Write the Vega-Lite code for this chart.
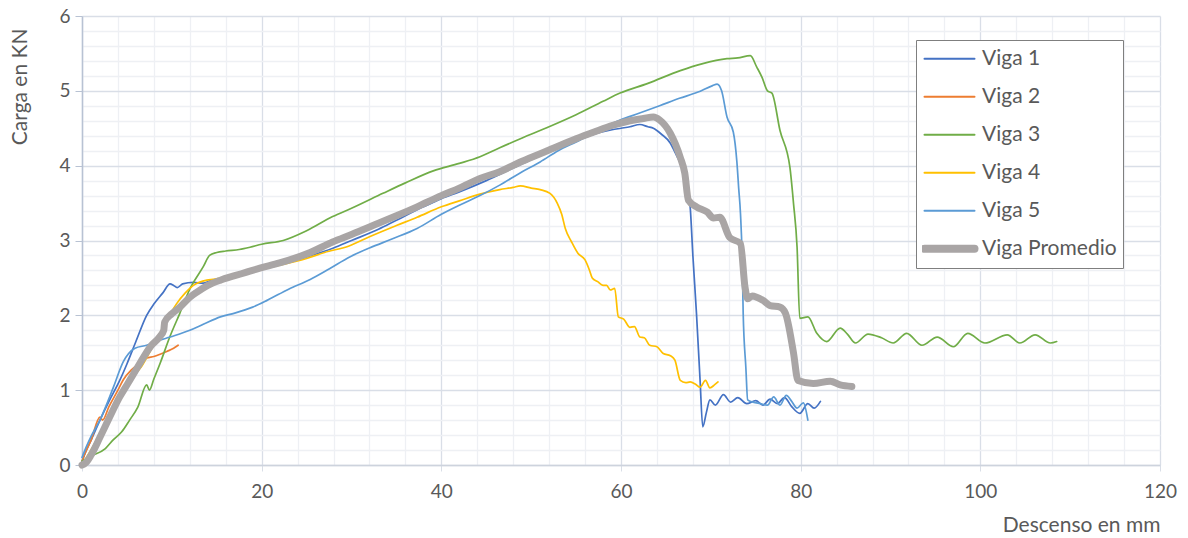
{
  "$schema": "https://vega.github.io/schema/vega-lite/v6.json",
  "width": 1078,
  "height": 449,
  "autosize": {"type": "none"},
  "padding": {"left": 82, "top": 16, "right": 28, "bottom": 73},
  "background": "white",
  "config": {"view": {"stroke": null}, "font": "Lato"},
  "data": {"values": [
    {"s":"Viga 1","x":0,"y":0.05},{"s":"Viga 1","x":0.5,"y":0.2},{"s":"Viga 1","x":1,"y":0.33},{"s":"Viga 1","x":2,"y":0.6},{"s":"Viga 1","x":3,"y":0.85},{"s":"Viga 1","x":4.2,"y":1.13},{"s":"Viga 1","x":5,"y":1.35},{"s":"Viga 1","x":6,"y":1.65},{"s":"Viga 1","x":7.2,"y":2.0},{"s":"Viga 1","x":8,"y":2.15},{"s":"Viga 1","x":9,"y":2.3},{"s":"Viga 1","x":9.8,"y":2.42},{"s":"Viga 1","x":10.2,"y":2.4},{"s":"Viga 1","x":10.6,"y":2.37},{"s":"Viga 1","x":11.2,"y":2.42},{"s":"Viga 1","x":12.4,"y":2.44},{"s":"Viga 1","x":13.5,"y":2.43},{"s":"Viga 1","x":14.5,"y":2.47},{"s":"Viga 1","x":15.4,"y":2.46},{"s":"Viga 1","x":17,"y":2.52},{"s":"Viga 1","x":20,"y":2.62},{"s":"Viga 1","x":22,"y":2.68},{"s":"Viga 1","x":25,"y":2.78},{"s":"Viga 1","x":28,"y":2.9},{"s":"Viga 1","x":30,"y":3.0},{"s":"Viga 1","x":33,"y":3.15},{"s":"Viga 1","x":35,"y":3.27},{"s":"Viga 1","x":38,"y":3.45},{"s":"Viga 1","x":40,"y":3.56},{"s":"Viga 1","x":42,"y":3.65},{"s":"Viga 1","x":45,"y":3.8},{"s":"Viga 1","x":48,"y":3.97},{"s":"Viga 1","x":50,"y":4.08},{"s":"Viga 1","x":53,"y":4.24},{"s":"Viga 1","x":55,"y":4.33},{"s":"Viga 1","x":57,"y":4.42},{"s":"Viga 1","x":59,"y":4.48},{"s":"Viga 1","x":60,"y":4.5},{"s":"Viga 1","x":61,"y":4.52},{"s":"Viga 1","x":62.1,"y":4.55},{"s":"Viga 1","x":63,"y":4.52},{"s":"Viga 1","x":63.6,"y":4.5},{"s":"Viga 1","x":64.5,"y":4.42},{"s":"Viga 1","x":65.5,"y":4.3},{"s":"Viga 1","x":66,"y":4.18},{"s":"Viga 1","x":66.6,"y":4.03},{"s":"Viga 1","x":67.2,"y":3.8},{"s":"Viga 1","x":67.7,"y":3.45},{"s":"Viga 1","x":68,"y":2.8},{"s":"Viga 1","x":68.4,"y":2.03},{"s":"Viga 1","x":68.8,"y":1.14},{"s":"Viga 1","x":69.1,"y":0.51},{"s":"Viga 1","x":69.5,"y":0.7},{"s":"Viga 1","x":69.9,"y":0.87},{"s":"Viga 1","x":70.5,"y":0.8},{"s":"Viga 1","x":71.4,"y":0.94},{"s":"Viga 1","x":72.2,"y":0.84},{"s":"Viga 1","x":73,"y":0.9},{"s":"Viga 1","x":74,"y":0.82},{"s":"Viga 1","x":75,"y":0.86},{"s":"Viga 1","x":75.8,"y":0.8},{"s":"Viga 1","x":76.6,"y":0.88},{"s":"Viga 1","x":77.4,"y":0.82},{"s":"Viga 1","x":78.2,"y":0.9},{"s":"Viga 1","x":79,"y":0.78},{"s":"Viga 1","x":79.9,"y":0.69},{"s":"Viga 1","x":80.8,"y":0.82},{"s":"Viga 1","x":81.5,"y":0.76},{"s":"Viga 1","x":82.2,"y":0.85},
    {"s":"Viga 2","x":0,"y":0.05},{"s":"Viga 2","x":0.5,"y":0.2},{"s":"Viga 2","x":1,"y":0.33},{"s":"Viga 2","x":2,"y":0.64},{"s":"Viga 2","x":2.3,"y":0.6},{"s":"Viga 2","x":3,"y":0.78},{"s":"Viga 2","x":4,"y":1.0},{"s":"Viga 2","x":4.6,"y":1.14},{"s":"Viga 2","x":5.5,"y":1.27},{"s":"Viga 2","x":6.7,"y":1.38},{"s":"Viga 2","x":7.2,"y":1.43},{"s":"Viga 2","x":8,"y":1.45},{"s":"Viga 2","x":8.7,"y":1.48},{"s":"Viga 2","x":9.5,"y":1.52},{"s":"Viga 2","x":10.2,"y":1.56},{"s":"Viga 2","x":10.7,"y":1.6},
    {"s":"Viga 3","x":0,"y":0.05},{"s":"Viga 3","x":1,"y":0.12},{"s":"Viga 3","x":2.6,"y":0.22},{"s":"Viga 3","x":3.5,"y":0.34},{"s":"Viga 3","x":4.4,"y":0.44},{"s":"Viga 3","x":5.3,"y":0.6},{"s":"Viga 3","x":6.2,"y":0.77},{"s":"Viga 3","x":7.2,"y":1.07},{"s":"Viga 3","x":7.5,"y":1.0},{"s":"Viga 3","x":8,"y":1.15},{"s":"Viga 3","x":8.7,"y":1.36},{"s":"Viga 3","x":9.8,"y":1.72},{"s":"Viga 3","x":10.9,"y":2.03},{"s":"Viga 3","x":12,"y":2.35},{"s":"Viga 3","x":13.5,"y":2.65},{"s":"Viga 3","x":14.2,"y":2.8},{"s":"Viga 3","x":15,"y":2.84},{"s":"Viga 3","x":16,"y":2.86},{"s":"Viga 3","x":17.5,"y":2.88},{"s":"Viga 3","x":18.7,"y":2.91},{"s":"Viga 3","x":20,"y":2.95},{"s":"Viga 3","x":22.4,"y":3.0},{"s":"Viga 3","x":25,"y":3.13},{"s":"Viga 3","x":27.9,"y":3.32},{"s":"Viga 3","x":30,"y":3.43},{"s":"Viga 3","x":33.5,"y":3.63},{"s":"Viga 3","x":36,"y":3.77},{"s":"Viga 3","x":39.1,"y":3.93},{"s":"Viga 3","x":42,"y":4.03},{"s":"Viga 3","x":44.3,"y":4.12},{"s":"Viga 3","x":46.5,"y":4.24},{"s":"Viga 3","x":49,"y":4.37},{"s":"Viga 3","x":51.8,"y":4.51},{"s":"Viga 3","x":55,"y":4.68},{"s":"Viga 3","x":58,"y":4.86},{"s":"Viga 3","x":59.9,"y":4.97},{"s":"Viga 3","x":63,"y":5.1},{"s":"Viga 3","x":66.6,"y":5.27},{"s":"Viga 3","x":69,"y":5.36},{"s":"Viga 3","x":71.8,"y":5.43},{"s":"Viga 3","x":73,"y":5.44},{"s":"Viga 3","x":74.4,"y":5.47},{"s":"Viga 3","x":75.1,"y":5.32},{"s":"Viga 3","x":75.7,"y":5.18},{"s":"Viga 3","x":76.3,"y":5.0},{"s":"Viga 3","x":76.8,"y":4.97},{"s":"Viga 3","x":77.7,"y":4.47},{"s":"Viga 3","x":78.8,"y":3.98},{"s":"Viga 3","x":79.2,"y":3.5},{"s":"Viga 3","x":79.6,"y":2.91},{"s":"Viga 3","x":79.9,"y":1.96},{"s":"Viga 3","x":80.8,"y":1.98},{"s":"Viga 3","x":81.8,"y":1.76},{"s":"Viga 3","x":82.9,"y":1.65},{"s":"Viga 3","x":84.4,"y":1.83},{"s":"Viga 3","x":85.2,"y":1.75},{"s":"Viga 3","x":86.1,"y":1.63},{"s":"Viga 3","x":87.5,"y":1.75},{"s":"Viga 3","x":89,"y":1.7},{"s":"Viga 3","x":90.3,"y":1.63},{"s":"Viga 3","x":91.8,"y":1.76},{"s":"Viga 3","x":93.5,"y":1.6},{"s":"Viga 3","x":95.2,"y":1.71},{"s":"Viga 3","x":97,"y":1.58},{"s":"Viga 3","x":98.6,"y":1.76},{"s":"Viga 3","x":100.5,"y":1.63},{"s":"Viga 3","x":103,"y":1.74},{"s":"Viga 3","x":104.4,"y":1.63},{"s":"Viga 3","x":106.1,"y":1.74},{"s":"Viga 3","x":107.8,"y":1.63},{"s":"Viga 3","x":108.5,"y":1.65},
    {"s":"Viga 4","x":0,"y":0},{"s":"Viga 4","x":1,"y":0.2},{"s":"Viga 4","x":2,"y":0.42},{"s":"Viga 4","x":3,"y":0.62},{"s":"Viga 4","x":4,"y":0.85},{"s":"Viga 4","x":5,"y":1.05},{"s":"Viga 4","x":6,"y":1.22},{"s":"Viga 4","x":6.7,"y":1.33},{"s":"Viga 4","x":7.5,"y":1.5},{"s":"Viga 4","x":8.5,"y":1.72},{"s":"Viga 4","x":9.5,"y":1.95},{"s":"Viga 4","x":10.5,"y":2.15},{"s":"Viga 4","x":11.5,"y":2.3},{"s":"Viga 4","x":12.4,"y":2.4},{"s":"Viga 4","x":13.9,"y":2.47},{"s":"Viga 4","x":14.6,"y":2.48},{"s":"Viga 4","x":17,"y":2.53},{"s":"Viga 4","x":20,"y":2.62},{"s":"Viga 4","x":22,"y":2.67},{"s":"Viga 4","x":25,"y":2.76},{"s":"Viga 4","x":27,"y":2.84},{"s":"Viga 4","x":29.8,"y":2.93},{"s":"Viga 4","x":32,"y":3.05},{"s":"Viga 4","x":35,"y":3.2},{"s":"Viga 4","x":37.3,"y":3.31},{"s":"Viga 4","x":40,"y":3.45},{"s":"Viga 4","x":42,"y":3.53},{"s":"Viga 4","x":44.3,"y":3.62},{"s":"Viga 4","x":46.5,"y":3.68},{"s":"Viga 4","x":48,"y":3.71},{"s":"Viga 4","x":48.8,"y":3.73},{"s":"Viga 4","x":50,"y":3.7},{"s":"Viga 4","x":51,"y":3.68},{"s":"Viga 4","x":52.1,"y":3.63},{"s":"Viga 4","x":52.9,"y":3.5},{"s":"Viga 4","x":53.4,"y":3.35},{"s":"Viga 4","x":53.8,"y":3.16},{"s":"Viga 4","x":54.5,"y":2.98},{"s":"Viga 4","x":55.2,"y":2.83},{"s":"Viga 4","x":56,"y":2.74},{"s":"Viga 4","x":56.5,"y":2.6},{"s":"Viga 4","x":56.8,"y":2.5},{"s":"Viga 4","x":57.4,"y":2.45},{"s":"Viga 4","x":58,"y":2.4},{"s":"Viga 4","x":58.4,"y":2.4},{"s":"Viga 4","x":58.8,"y":2.34},{"s":"Viga 4","x":59.3,"y":2.36},{"s":"Viga 4","x":59.7,"y":1.98},{"s":"Viga 4","x":60.3,"y":1.95},{"s":"Viga 4","x":61,"y":1.84},{"s":"Viga 4","x":61.5,"y":1.85},{"s":"Viga 4","x":62.1,"y":1.71},{"s":"Viga 4","x":62.6,"y":1.7},{"s":"Viga 4","x":63.2,"y":1.6},{"s":"Viga 4","x":64,"y":1.58},{"s":"Viga 4","x":64.7,"y":1.49},{"s":"Viga 4","x":65.5,"y":1.46},{"s":"Viga 4","x":66,"y":1.4},{"s":"Viga 4","x":66.6,"y":1.13},{"s":"Viga 4","x":67.2,"y":1.1},{"s":"Viga 4","x":67.7,"y":1.11},{"s":"Viga 4","x":68.3,"y":1.08},{"s":"Viga 4","x":68.8,"y":1.04},{"s":"Viga 4","x":69.4,"y":1.13},{"s":"Viga 4","x":69.9,"y":1.03},{"s":"Viga 4","x":70.4,"y":1.07},{"s":"Viga 4","x":70.8,"y":1.11},
    {"s":"Viga 5","x":0,"y":0.1},{"s":"Viga 5","x":0.5,"y":0.25},{"s":"Viga 5","x":1,"y":0.38},{"s":"Viga 5","x":2,"y":0.6},{"s":"Viga 5","x":3.5,"y":1.04},{"s":"Viga 5","x":4.6,"y":1.38},{"s":"Viga 5","x":5.9,"y":1.56},{"s":"Viga 5","x":7.2,"y":1.6},{"s":"Viga 5","x":8.5,"y":1.66},{"s":"Viga 5","x":9.8,"y":1.71},{"s":"Viga 5","x":12,"y":1.8},{"s":"Viga 5","x":13.5,"y":1.88},{"s":"Viga 5","x":15.4,"y":1.98},{"s":"Viga 5","x":17,"y":2.03},{"s":"Viga 5","x":19,"y":2.11},{"s":"Viga 5","x":20.6,"y":2.2},{"s":"Viga 5","x":23,"y":2.35},{"s":"Viga 5","x":25.4,"y":2.48},{"s":"Viga 5","x":27.5,"y":2.62},{"s":"Viga 5","x":29.8,"y":2.78},{"s":"Viga 5","x":32,"y":2.9},{"s":"Viga 5","x":34.5,"y":3.02},{"s":"Viga 5","x":37.3,"y":3.16},{"s":"Viga 5","x":40,"y":3.35},{"s":"Viga 5","x":42,"y":3.47},{"s":"Viga 5","x":44.3,"y":3.6},{"s":"Viga 5","x":46.5,"y":3.74},{"s":"Viga 5","x":49,"y":3.92},{"s":"Viga 5","x":51,"y":4.05},{"s":"Viga 5","x":53,"y":4.2},{"s":"Viga 5","x":55.4,"y":4.34},{"s":"Viga 5","x":57.5,"y":4.48},{"s":"Viga 5","x":59.9,"y":4.61},{"s":"Viga 5","x":62,"y":4.7},{"s":"Viga 5","x":64.3,"y":4.8},{"s":"Viga 5","x":66.5,"y":4.9},{"s":"Viga 5","x":68.5,"y":4.98},{"s":"Viga 5","x":70.2,"y":5.07},{"s":"Viga 5","x":70.7,"y":5.09},{"s":"Viga 5","x":71.2,"y":5.0},{"s":"Viga 5","x":71.8,"y":4.65},{"s":"Viga 5","x":72.5,"y":4.45},{"s":"Viga 5","x":72.9,"y":4.05},{"s":"Viga 5","x":73.1,"y":3.7},{"s":"Viga 5","x":73.3,"y":3.36},{"s":"Viga 5","x":73.5,"y":2.7},{"s":"Viga 5","x":73.6,"y":2.03},{"s":"Viga 5","x":73.9,"y":1.3},{"s":"Viga 5","x":74.1,"y":0.87},{"s":"Viga 5","x":74.7,"y":0.84},{"s":"Viga 5","x":75.5,"y":0.82},{"s":"Viga 5","x":76.3,"y":0.8},{"s":"Viga 5","x":77,"y":0.91},{"s":"Viga 5","x":77.7,"y":0.8},{"s":"Viga 5","x":78.4,"y":0.93},{"s":"Viga 5","x":79,"y":0.85},{"s":"Viga 5","x":79.6,"y":0.76},{"s":"Viga 5","x":80.3,"y":0.83},{"s":"Viga 5","x":80.8,"y":0.6},
    {"s":"Viga Promedio","x":0,"y":0},{"s":"Viga Promedio","x":0.5,"y":0.04},{"s":"Viga Promedio","x":1,"y":0.13},{"s":"Viga Promedio","x":2,"y":0.37},{"s":"Viga Promedio","x":3,"y":0.62},{"s":"Viga Promedio","x":4.2,"y":0.91},{"s":"Viga Promedio","x":5,"y":1.07},{"s":"Viga Promedio","x":6.2,"y":1.31},{"s":"Viga Promedio","x":7.6,"y":1.58},{"s":"Viga Promedio","x":8.7,"y":1.72},{"s":"Viga Promedio","x":9.1,"y":1.8},{"s":"Viga Promedio","x":9.2,"y":1.91},{"s":"Viga Promedio","x":10,"y":2.02},{"s":"Viga Promedio","x":10.9,"y":2.11},{"s":"Viga Promedio","x":12,"y":2.24},{"s":"Viga Promedio","x":12.8,"y":2.31},{"s":"Viga Promedio","x":14,"y":2.4},{"s":"Viga Promedio","x":15.4,"y":2.47},{"s":"Viga Promedio","x":17,"y":2.53},{"s":"Viga Promedio","x":19.8,"y":2.63},{"s":"Viga Promedio","x":22,"y":2.7},{"s":"Viga Promedio","x":25.4,"y":2.84},{"s":"Viga Promedio","x":27.9,"y":2.98},{"s":"Viga Promedio","x":30,"y":3.08},{"s":"Viga Promedio","x":33,"y":3.23},{"s":"Viga Promedio","x":35,"y":3.33},{"s":"Viga Promedio","x":37.3,"y":3.45},{"s":"Viga Promedio","x":40,"y":3.6},{"s":"Viga Promedio","x":42,"y":3.7},{"s":"Viga Promedio","x":44.3,"y":3.83},{"s":"Viga Promedio","x":46.5,"y":3.92},{"s":"Viga Promedio","x":49,"y":4.06},{"s":"Viga Promedio","x":51.8,"y":4.2},{"s":"Viga Promedio","x":55,"y":4.36},{"s":"Viga Promedio","x":57,"y":4.45},{"s":"Viga Promedio","x":59.1,"y":4.54},{"s":"Viga Promedio","x":61,"y":4.6},{"s":"Viga Promedio","x":62.5,"y":4.63},{"s":"Viga Promedio","x":63.6,"y":4.65},{"s":"Viga Promedio","x":64.3,"y":4.61},{"s":"Viga Promedio","x":65.5,"y":4.43},{"s":"Viga Promedio","x":66.6,"y":4.11},{"s":"Viga Promedio","x":67.1,"y":3.9},{"s":"Viga Promedio","x":67.5,"y":3.54},{"s":"Viga Promedio","x":68.4,"y":3.45},{"s":"Viga Promedio","x":69.6,"y":3.38},{"s":"Viga Promedio","x":70.3,"y":3.3},{"s":"Viga Promedio","x":71,"y":3.31},{"s":"Viga Promedio","x":72.1,"y":3.04},{"s":"Viga Promedio","x":73.3,"y":2.96},{"s":"Viga Promedio","x":73.8,"y":2.38},{"s":"Viga Promedio","x":74.1,"y":2.22},{"s":"Viga Promedio","x":74.6,"y":2.26},{"s":"Viga Promedio","x":75.8,"y":2.2},{"s":"Viga Promedio","x":76.6,"y":2.13},{"s":"Viga Promedio","x":77.7,"y":2.11},{"s":"Viga Promedio","x":78.3,"y":2.03},{"s":"Viga Promedio","x":79.2,"y":1.5},{"s":"Viga Promedio","x":79.7,"y":1.13},{"s":"Viga Promedio","x":81.4,"y":1.09},{"s":"Viga Promedio","x":83.3,"y":1.12},{"s":"Viga Promedio","x":84.4,"y":1.07},{"s":"Viga Promedio","x":85.7,"y":1.05}
  ]},
  "mark": {"type": "line", "interpolate": "monotone", "strokeCap": "round", "strokeJoin": "round"},
  "encoding": {
    "x": {
      "field": "x", "type": "quantitative",
      "scale": {"domain": [0, 120], "nice": false, "zero": true},
      "axis": {
        "title": "Descenso en mm",
        "values": [0,4,8,12,16,20,24,28,32,36,40,44,48,52,56,60,64,68,72,76,80,84,88,92,96,100,104,108,112,116,120],
        "labelExpr": "datum.value % 20 === 0 ? datum.label : ''",
        "labelOverlap": false, "labelFlush": false,
        "grid": true,
        "gridColor": {"condition": {"test": "datum.value % 20 === 0", "value": "#D9DEE7"}, "value": "#EEF0F4"},
        "gridWidth": 1.3,
        "ticks": true, "tickSize": 6,
        "tickColor": "#D9DEE7",
        "tickOpacity": {"condition": {"test": "datum.value % 20 === 0", "value": 1}, "value": 0},
        "domainColor": "#CDD3DD", "domainWidth": 1.3,
        "labelFontSize": 19, "labelColor": "#595959", "labelPadding": 11,
        "titleFontSize": 21, "titleColor": "#595959", "titleFontWeight": "normal",
        "titleAlign": "right", "titleAnchor": "end", "titleX": 1078, "titleY": 60, "titleBaseline": "middle"
      }
    },
    "y": {
      "field": "y", "type": "quantitative",
      "scale": {"domain": [0, 6], "nice": false},
      "axis": {
        "title": "Carga en KN",
        "values": [0,0.2,0.4,0.6,0.8,1,1.2,1.4,1.6,1.8,2,2.2,2.4,2.6,2.8,3,3.2,3.4,3.6,3.8,4,4.2,4.4,4.6,4.8,5,5.2,5.4,5.6,5.8,6],
        "labelExpr": "abs(datum.value - round(datum.value)) < 0.01 ? format(datum.value, 'd') : ''",
        "labelOverlap": false, "labelFlush": false,
        "grid": true,
        "gridColor": {"condition": {"test": "abs(datum.value - round(datum.value)) < 0.01", "value": "#D9DEE7"}, "value": "#EEF0F4"},
        "gridWidth": 1.3,
        "ticks": true, "tickSize": 7,
        "tickColor": "#B8C2D3",
        "tickOpacity": {"condition": {"test": "abs(datum.value - round(datum.value)) < 0.01", "value": 1}, "value": 0},
        "domainColor": "#B8C2D3", "domainWidth": 1.5,
        "labelFontSize": 19, "labelColor": "#595959", "labelPadding": 5,
        "titleFontSize": 21, "titleColor": "#595959", "titleFontWeight": "normal",
        "titleAngle": -90, "titleAlign": "right", "titleX": -62, "titleY": 12, "titleBaseline": "middle"
      }
    },
    "color": {
      "field": "s", "type": "nominal",
      "scale": {
        "domain": ["Viga 1", "Viga 2", "Viga 3", "Viga 4", "Viga 5", "Viga Promedio"],
        "range": ["#4472C4", "#ED7D31", "#70AD47", "#FFC000", "#5B9BD5", "#A9A5A5"]
      },
      "legend": {
        "title": null, "orient": "none", "legendX": 834, "legendY": 24,
        "symbolType": "stroke", "symbolSize": 2500, "symbolStrokeWidth": 2,
        "symbolOffset": 17,
        "labelFontSize": 21, "labelColor": "#595959", "labelOffset": 22, "labelLimit": 250,
        "clipHeight": 25.5, "rowPadding": 12, "padding": 6,
        "strokeColor": "#7F7F7F", "fillColor": "white",
        "encode": {"symbols": {"update": {"strokeWidth": {"signal": "datum.value === 'Viga Promedio' ? 8 : 2"}, "strokeCap": {"value": "round"}}}}
      }
    },
    "strokeWidth": {
      "condition": {"test": "datum.s === 'Viga Promedio'", "value": 7},
      "value": 1.7
    }
  }
}
